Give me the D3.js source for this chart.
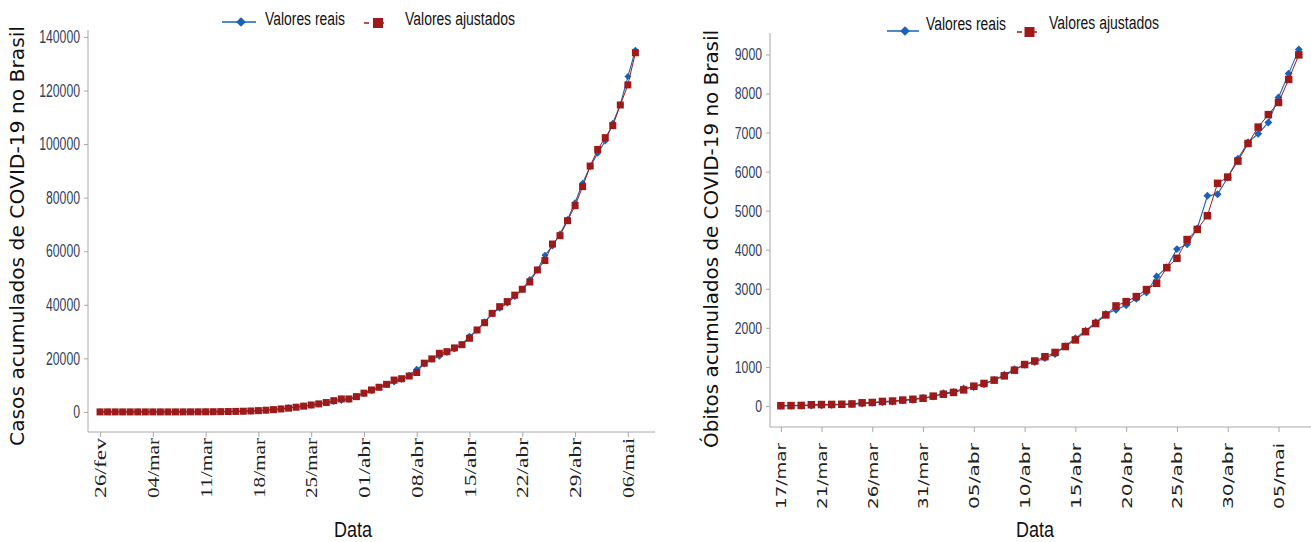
<!DOCTYPE html>
<html>
<head>
<meta charset="utf-8">
<script src="https://cdn.jsdelivr.net/npm/d3@7"></script>
<style>
  html, body { margin: 0; padding: 0; background: #fff; }
  svg { display: block; }
</style>
</head>
<body>
<svg id="chart" width="1311" height="542"></svg>
<script>
// ---------- DATA ----------
const casesStart = new Date(2020, 1, 26);
const casesEnd = new Date(2020, 4, 8);
const casesReal = [1,1,1,2,2,2,2,3,8,13,19,25,25,34,52,77,98,121,200,234,291,428,621,904,1128,1546,1891,2201,2433,2915,3417,3904,4256,4579,5717,6836,7910,9056,10278,11130,12056,13717,15927,17857,19638,20727,22169,23430,25262,28320,30425,33682,36599,38654,40581,43079,45757,49492,52995,58509,61888,66501,71886,78162,85380,91589,96559,101147,107780,114715,125218,135106];
const casesAdj = [0,0,0,0,0,0,0,0,0,0,5,10,20,30,45,70,100,140,190,260,350,480,640,850,1100,1400,1750,2150,2600,3000,3500,4200,4850,4850,5700,7000,8200,9200,10300,11900,12400,13400,14700,18200,19800,21900,22500,23900,25100,27500,30600,33300,36800,39300,41200,43600,45800,48500,53000,56500,62700,65800,71400,77000,84100,91800,98000,102400,106900,114600,122100,134100];
const casesTickDates = [[2020,1,26],[2020,2,4],[2020,2,11],[2020,2,18],[2020,2,25],[2020,3,1],[2020,3,8],[2020,3,15],[2020,3,22],[2020,3,29],[2020,4,6]];
const casesTickLabels = ["26/fev","04/mar","11/mar","18/mar","25/mar","01/abr","08/abr","15/abr","22/abr","29/abr","06/mai"];
const casesYTicks = [0,20000,40000,60000,80000,100000,120000,140000];

const deathsStart = new Date(2020, 2, 17);
const deathsEnd = new Date(2020, 4, 8);
const deathsReal = [1,4,7,11,18,25,34,46,59,77,92,111,136,159,201,240,324,359,445,486,553,667,800,941,1056,1124,1223,1328,1532,1736,1924,2141,2354,2462,2575,2741,2906,3313,3550,4016,4140,4543,5380,5420,5850,6330,6750,6970,7260,7900,8510,9130];
const deathsAdj = [5,8,12,30,35,38,42,50,80,88,115,125,150,170,195,250,300,345,410,505,575,660,770,915,1060,1150,1260,1370,1520,1690,1900,2110,2330,2560,2670,2800,2980,3140,3540,3780,4260,4520,4870,5700,5860,6270,6720,7140,7460,7770,8360,8990];
const deathsTickDates = [[2020,2,17],[2020,2,21],[2020,2,26],[2020,2,31],[2020,3,5],[2020,3,10],[2020,3,15],[2020,3,20],[2020,3,25],[2020,3,30],[2020,4,5]];
const deathsTickLabels = ["17/mar","21/mar","26/mar","31/mar","05/abr","10/abr","15/abr","20/abr","25/abr","30/abr","05/mai"];
const deathsYTicks = [0,1000,2000,3000,4000,5000,6000,7000,8000,9000];

const legendLabels = ["Valores reais", "Valores ajustados"];

// ---------- STYLE ----------
const BLUE = "#1a62b8";
const RED = "#9c1a1a";
const AXIS = "#a8a8a8";
const TICKTXT = "#2f3d5c";
const NARROW = "'Liberation Sans Narrow', 'Arial Narrow', 'Liberation Sans', sans-serif";

const svg = d3.select("#chart");
const dayMs = 86400000;

function drawPanel(cfg) {
  const dates = d3.timeDay.range(cfg.start, cfg.end);
  const x = d3.scaleTime()
    .domain([new Date(+cfg.t0 + cfg.dayLo * dayMs), new Date(+cfg.t0 + cfg.dayHi * dayMs)])
    .range([cfg.x0, cfg.x1]);
  const y = d3.scaleLinear().domain(cfg.yDomain).range([cfg.yBottom, cfg.yTop]);

  const g = svg.append("g");

  // Y axis
  const yAxis = d3.axisLeft(y).tickValues(cfg.yTicks).tickSize(4).tickPadding(4).tickFormat(d3.format("d"));
  const ya = g.append("g").attr("transform", `translate(${cfg.x0},0)`).call(yAxis);
  ya.select(".domain").attr("stroke", AXIS).attr("d", `M-0,${cfg.yBottom}V${cfg.yTop}`);
  ya.selectAll(".tick line").attr("stroke", AXIS);
  ya.selectAll(".tick text")
    .attr("fill", TICKTXT)
    .attr("textLength", d => String(d).length * cfg.digitW)
    .attr("lengthAdjust", "spacingAndGlyphs")
    .style("font-family", NARROW)
    .style("font-size", cfg.yFont + "px");

  // X axis
  const tickDates = cfg.tickDates.map(d => new Date(d[0], d[1], d[2]));
  const xAxis = d3.axisBottom(x).tickValues(tickDates).tickSize(5)
    .tickFormat((d, i) => cfg.tickLabels[i]);
  const xa = g.append("g").attr("transform", `translate(0,${cfg.yBottom})`).call(xAxis);
  xa.select(".domain").attr("stroke", AXIS).attr("d", `M${cfg.x0},0H${cfg.x1}`);
  xa.selectAll(".tick line").attr("stroke", AXIS);
  xa.selectAll(".tick text")
    .attr("fill", "#222")
    .attr("text-anchor", "end")
    .attr("dy", "0.35em")
    .attr("y", 0)
    .attr("x", 0)
    .attr("textLength", cfg.xLabelLen)
    .attr("lengthAdjust", "spacingAndGlyphs")
    .style("font-family", cfg.xFontFamily)
    .style("font-size", cfg.xFont + "px")
    .attr("transform", `translate(0,${cfg.xLabelTop - cfg.yBottom}) rotate(-90)`);

  // Lines + markers
  const line = d3.line().x((d, i) => x(dates[i])).y(d => y(d));
  g.append("path").datum(cfg.real).attr("fill", "none").attr("stroke", BLUE).attr("stroke-width", 1.1).attr("d", line);
  g.append("g").selectAll("path").data(cfg.real).join("path")
    .attr("d", d3.symbol().type(d3.symbolDiamond2).size(cfg.diamondSize))
    .attr("transform", (d, i) => `translate(${x(dates[i])},${y(d)})`)
    .attr("fill", BLUE);
  g.append("path").datum(cfg.adj).attr("fill", "none").attr("stroke", RED).attr("stroke-width", 1).attr("d", line);
  g.append("g").selectAll("rect").data(cfg.adj).join("rect")
    .attr("x", (d, i) => x(dates[i]) - cfg.sq / 2)
    .attr("y", d => y(d) - cfg.sq / 2)
    .attr("width", cfg.sq).attr("height", cfg.sq)
    .attr("fill", RED);

  // Y title
  g.append("text")
    .attr("transform", `translate(${cfg.yTitleX},${cfg.yTitleCY}) rotate(-90)`)
    .attr("text-anchor", "middle")
    .attr("textLength", cfg.yTitleLen)
    .attr("lengthAdjust", "spacingAndGlyphs")
    .style("font-family", "'DejaVu Sans', Verdana, sans-serif")
    .style("font-size", "19px")
    .attr("fill", "#111")
    .text(cfg.yTitle);

  // X title
  g.append("text")
    .attr("x", cfg.xTitleX).attr("y", 537)
    .attr("text-anchor", "middle")
    .attr("textLength", 38)
    .attr("lengthAdjust", "spacingAndGlyphs")
    .style("font-family", NARROW)
    .style("font-size", "22px")
    .attr("fill", "#111")
    .text("Data");

  // Legend
  const L = cfg.legend;
  const lg = g.append("g");
  lg.append("line").attr("x1", L.bx0).attr("x2", L.bx1).attr("y1", L.y).attr("y2", L.y).attr("stroke", BLUE).attr("stroke-width", 1.5);
  lg.append("path").attr("d", d3.symbol().type(d3.symbolDiamond2).size(60)).attr("transform", `translate(${(L.bx0 + L.bx1) / 2 + 2},${L.y})`).attr("fill", BLUE);
  lg.append("text").attr("x", L.t1).attr("y", L.y + L.dy1)
    .attr("textLength", 80).attr("lengthAdjust", "spacingAndGlyphs")
    .style("font-family", NARROW).style("font-size", "18px").attr("fill", "#111").text(legendLabels[0]);
  lg.append("line").attr("x1", L.rx0).attr("x2", L.rx1).attr("y1", L.y + 1).attr("y2", L.y + 1).attr("stroke", RED).attr("stroke-width", 1.5).attr("stroke-dasharray", "5,10");
  lg.append("rect").attr("x", (L.rx0 + L.rx1) / 2 - 5).attr("y", L.y + 1 - 5).attr("width", 10).attr("height", 10).attr("fill", RED);
  lg.append("text").attr("x", L.t2).attr("y", L.y + L.dy2)
    .attr("textLength", 110).attr("lengthAdjust", "spacingAndGlyphs")
    .style("font-family", NARROW).style("font-size", "18px").attr("fill", "#111").text(legendLabels[1]);
}

drawPanel({
  start: casesStart, end: casesEnd, t0: casesStart,
  dayLo: -1.6, dayHi: 73.6, x0: 88, x1: 655,
  yDomain: [-7500, 142600], yBottom: 432, yTop: 30,
  yTicks: casesYTicks, yFont: 18, digitW: 6.8,
  tickDates: casesTickDates, tickLabels: casesTickLabels,
  xFontFamily: "'Liberation Serif', 'Times New Roman', serif", xFont: 16, xLabelLen: 60, xLabelTop: 438,
  real: casesReal, adj: casesAdj, diamondSize: 30, sq: 7,
  yTitle: "Casos acumulados de COVID-19 no Brasil", yTitleX: 24, yTitleCY: 236, yTitleLen: 420,
  xTitleX: 353,
  legend: { y: 22, dy1: 3, dy2: 3, bx0: 222, bx1: 256, t1: 265, rx0: 364, rx1: 392, t2: 405 }
});

drawPanel({
  start: deathsStart, end: deathsEnd, t0: deathsStart,
  dayLo: -1.07, dayHi: 52.2, x0: 770, x1: 1311,
  yDomain: [-540, 9550], yBottom: 427, yTop: 33,
  yTicks: deathsYTicks, yFont: 17, digitW: 6.8,
  tickDates: deathsTickDates, tickLabels: deathsTickLabels,
  xFontFamily: "'DejaVu Sans', Verdana, sans-serif", xFont: 14, xLabelLen: 66, xLabelTop: 443,
  real: deathsReal, adj: deathsAdj, diamondSize: 40, sq: 7.5,
  yTitle: "Óbitos  acumulados de COVID-19 no Brasil", yTitleX: 718, yTitleCY: 239, yTitleLen: 418,
  xTitleX: 1035,
  legend: { y: 31, dy1: -1, dy2: -2, bx0: 887, bx1: 919, t1: 926, rx0: 1017, rx1: 1042, t2: 1049 }
});
</script>
</body>
</html>
